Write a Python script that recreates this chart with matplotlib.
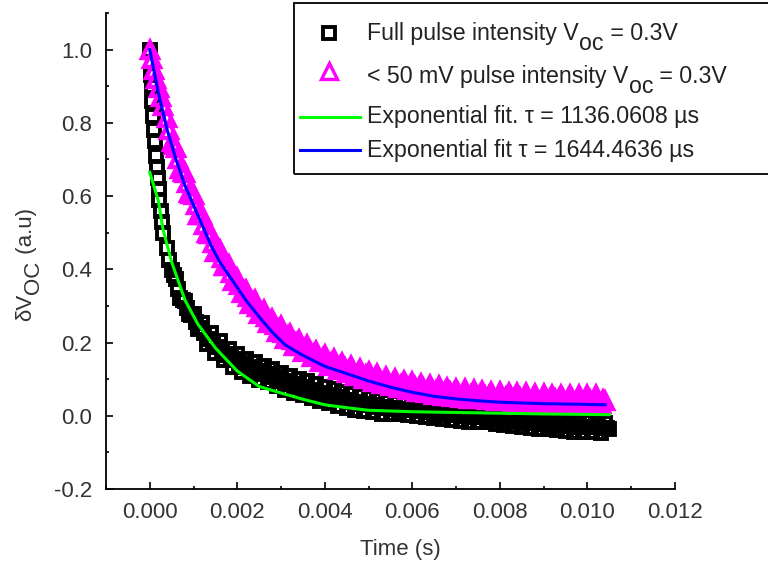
import numpy as np
import matplotlib.pyplot as plt
from matplotlib.lines import Line2D
from matplotlib.patches import Rectangle
from matplotlib.ticker import MultipleLocator, FormatStrFormatter

plt.rcParams['font.family'] = ['Liberation Sans', 'DejaVu Sans']
plt.rcParams['axes.unicode_minus'] = False

# full pulse intensity: fast drop right after the pulse (s, a.u.)
full_t_start = [0.0, 0.00002, 0.00004, 0.00006, 0.00008, 0.0001, 0.00012, 0.00014,
                0.00016, 0.00018, 0.0002, 0.00022, 0.00025, 0.00028, 0.0003]
full_v_start = [1.00, 0.93, 0.90, 0.86, 0.82, 0.78, 0.75, 0.71,
                0.68, 0.65, 0.62, 0.59, 0.56, 0.53, 0.50]
# full pulse intensity, every 0.1 ms from 0.4 ms to 10.5 ms
full_v = [0.458, 0.397, 0.373, 0.322, 0.313, 0.277, 0.279, 0.236, 0.253, 0.197,
          0.226, 0.172, 0.203, 0.151, 0.183, 0.134, 0.169, 0.120, 0.156, 0.109,
          0.146, 0.099, 0.137, 0.091, 0.129, 0.081, 0.117, 0.071, 0.109, 0.063,
          0.101, 0.056, 0.094, 0.048, 0.086, 0.041, 0.079, 0.034, 0.073, 0.027,
          0.065, 0.022, 0.060, 0.017, 0.054, 0.013, 0.049, 0.009, 0.044, 0.006,
          0.037, 0.006, 0.035, 0.004, 0.033, 0.002, 0.031, -0.001, 0.028, -0.004,
          0.025, -0.007, 0.022, -0.010, 0.019, -0.012, 0.017, -0.014, 0.015, -0.016,
          0.013, -0.017, 0.012, -0.018, 0.006, -0.022, 0.003, -0.024, 0.000, -0.027,
          -0.003, -0.030, -0.006, -0.033, -0.008, -0.035, -0.010, -0.037, -0.012, -0.039,
          -0.014, -0.041, -0.016, -0.043, -0.017, -0.044, -0.018, -0.045, -0.019, -0.046,
          -0.020, -0.037]
full_t = 0.0004 + 0.0001 * np.arange(len(full_v))
# full pulse intensity, the samples in between (0.45 ms to 10.45 ms)
full_v_mid = [0.425, 0.385, 0.347, 0.317, 0.295, 0.275, 0.257, 0.241, 0.225, 0.211,
              0.199, 0.187, 0.177, 0.167, 0.158, 0.151, 0.144, 0.138, 0.132, 0.127,
              0.122, 0.118, 0.114, 0.110, 0.105, 0.099, 0.094, 0.090, 0.086, 0.082,
              0.078, 0.075, 0.071, 0.067, 0.063, 0.060, 0.056, 0.053, 0.050, 0.046,
              0.043, 0.041, 0.038, 0.036, 0.033, 0.031, 0.029, 0.027, 0.025, 0.023,
              0.021, 0.020, 0.019, 0.018, 0.017, 0.016, 0.015, 0.013, 0.012, 0.010,
              0.009, 0.007, 0.006, 0.004, 0.003, 0.002, 0.001, 0.000, -0.001, -0.001,
              -0.002, -0.002, -0.004, -0.006, -0.008, -0.009, -0.011, -0.012, -0.013, -0.015,
              -0.016, -0.018, -0.019, -0.020, -0.021, -0.022, -0.023, -0.024, -0.025, -0.026,
              -0.027, -0.028, -0.029, -0.030, -0.030, -0.031, -0.031, -0.032, -0.032, -0.033,
              -0.034]
full_t_mid = 0.00045 + 0.0001 * np.arange(len(full_v_mid))

# < 50 mV pulse intensity
low_t_start = [0.0, 0.00005, 0.0001, 0.00015, 0.0002, 0.00025, 0.0003]
low_v_start = [1.0, 0.975, 0.945, 0.92, 0.895, 0.87, 0.845]
# every 0.1 ms from 0.4 ms to 10.4 ms
low_v = [0.812, 0.748, 0.732, 0.673, 0.662, 0.608, 0.602, 0.548, 0.547, 0.498,
         0.497, 0.448, 0.452, 0.408, 0.412, 0.368, 0.377, 0.336, 0.344, 0.306,
         0.315, 0.278, 0.289, 0.253, 0.265, 0.230, 0.244, 0.210, 0.224, 0.191,
         0.207, 0.175, 0.192, 0.161, 0.178, 0.148, 0.166, 0.136, 0.155, 0.126,
         0.145, 0.116, 0.136, 0.108, 0.128, 0.100, 0.120, 0.093, 0.113, 0.086,
         0.107, 0.080, 0.101, 0.075, 0.096, 0.070, 0.092, 0.066, 0.088, 0.062,
         0.084, 0.058, 0.080, 0.055, 0.077, 0.052, 0.074, 0.049, 0.072, 0.047,
         0.070, 0.045, 0.068, 0.043, 0.066, 0.041, 0.064, 0.040, 0.063, 0.038,
         0.062, 0.037, 0.061, 0.036, 0.060, 0.035, 0.059, 0.034, 0.058, 0.034,
         0.057, 0.033, 0.057, 0.033, 0.056, 0.032, 0.056, 0.032, 0.056, 0.032,
         0.040]
low_t = 0.0004 + 0.0001 * np.arange(len(low_v))
# in between samples, 0.45 ms to 10.35 ms
low_v_mid = [0.780, 0.740, 0.702, 0.667, 0.635, 0.605, 0.575, 0.547, 0.522, 0.497,
             0.472, 0.450, 0.430, 0.410, 0.390, 0.372, 0.356, 0.340, 0.325, 0.310,
             0.296, 0.283, 0.271, 0.259, 0.247, 0.237, 0.227, 0.217, 0.207, 0.199,
             0.191, 0.183, 0.176, 0.169, 0.163, 0.157, 0.151, 0.145, 0.140, 0.135,
             0.130, 0.126, 0.122, 0.118, 0.114, 0.110, 0.106, 0.103, 0.099, 0.096,
             0.093, 0.090, 0.088, 0.085, 0.083, 0.081, 0.079, 0.077, 0.075, 0.073,
             0.071, 0.069, 0.067, 0.066, 0.064, 0.063, 0.061, 0.060, 0.059, 0.058,
             0.057, 0.056, 0.055, 0.054, 0.053, 0.052, 0.052, 0.051, 0.050, 0.050,
             0.049, 0.049, 0.048, 0.048, 0.047, 0.047, 0.046, 0.046, 0.046, 0.045,
             0.045, 0.045, 0.045, 0.044, 0.044, 0.044, 0.044, 0.044, 0.044, 0.044]
low_t_mid = 0.00045 + 0.0001 * np.arange(len(low_v_mid))

# exponential fits
fit1_t = [0.0, 0.0002, 0.0003, 0.0005, 0.0008, 0.0011, 0.0015, 0.002, 0.0025,
          0.003, 0.0035, 0.004, 0.0045, 0.005, 0.006, 0.007, 0.008, 0.009, 0.0105]
fit1_v = [0.665, 0.585, 0.51, 0.42, 0.317, 0.25, 0.185, 0.122, 0.08,
          0.062, 0.045, 0.03, 0.022, 0.015, 0.011, 0.009, 0.007, 0.005, 0.003]
fit2_t = [0.0, 0.0002, 0.0004, 0.0006, 0.0008, 0.001, 0.0012, 0.0014, 0.0016,
          0.0018, 0.002, 0.0022, 0.0025, 0.0028, 0.0031, 0.0035, 0.004, 0.0045,
          0.005, 0.0055, 0.006, 0.0065, 0.007, 0.0075, 0.008, 0.009, 0.01, 0.0104]
fit2_v = [1.0, 0.88, 0.78, 0.70, 0.63, 0.575, 0.52, 0.465, 0.42,
          0.385, 0.35, 0.315, 0.27, 0.228, 0.193, 0.165, 0.135, 0.115,
          0.095, 0.078, 0.064, 0.053, 0.046, 0.041, 0.037, 0.033, 0.031, 0.030]

# legend texts: (before subscript, subscript, after subscript)
legend_rows = [('Full pulse intensity V', 'oc', ' = 0.3V'),
               ('< 50 mV pulse intensity V', 'oc', ' = 0.3V'),
               ('Exponential fit. τ = 1136.0608 µs', '', ''),
               ('Exponential fit τ = 1644.4636 µs', '', '')]
ylabel_parts = ('δV', 'OC', ' (a.u)')

W, H = 768, 565
fig = plt.figure(figsize=(W / 100, H / 100), dpi=100)
ax = fig.add_axes([106 / W, 76 / H, (675 - 106) / W, (489 - 13) / H])

sq = dict(ls='none', marker='s', ms=8.0, mfc='none', mec='black', mew=2.8)
tri = dict(ls='none', marker='^', ms=11.5, mfc='none', mec='#ff00ff', mew=3.1)
ax.plot(full_t_start, full_v_start, zorder=2, **sq)
ax.plot(full_t, full_v, zorder=2, **sq)
ax.plot(full_t_mid, full_v_mid, zorder=2, **sq)
ax.plot(low_t_start, low_v_start, zorder=3, **tri)
ax.plot(low_t, low_v, zorder=3, **tri)
ax.plot(low_t_mid, low_v_mid, zorder=3, **tri)
ax.plot(fit1_t, fit1_v, color='#00ff00', lw=2.2, zorder=4)
ax.plot(fit2_t, fit2_v, color='#0000ff', lw=2.2, zorder=5)

ax.set_xlim(-0.001, 0.012)
ax.set_ylim(-0.2, 1.1)
ax.xaxis.set_major_locator(MultipleLocator(0.002))
ax.xaxis.set_minor_locator(MultipleLocator(0.001))
ax.yaxis.set_major_locator(MultipleLocator(0.2))
ax.yaxis.set_minor_locator(MultipleLocator(0.1))
ax.xaxis.set_major_formatter(FormatStrFormatter('%.3f'))
ax.yaxis.set_major_formatter(FormatStrFormatter('%.1f'))
for s in ['top', 'right']:
    ax.spines[s].set_visible(False)
for s in ['left', 'bottom']:
    ax.spines[s].set_linewidth(1.3)
ax.tick_params(which='both', direction='in', width=1.2, labelsize=16,
               labelcolor='#333333')
ax.tick_params(which='major', length=5)
ax.tick_params(which='minor', length=2.5)
ax.tick_params(axis='x', pad=9)
ax.tick_params(axis='y', pad=10)

fig.text(400 / W, 1 - 549 / H, 'Time (s)', ha='center', va='center',
         fontsize=16, color='#333333')

# y label with an Origin-style subscript (full size, dropped)
rot = dict(rotation=90, rotation_mode='anchor', ha='left', va='baseline',
           fontsize=16, color='#333333')
y1 = fig.text(31 / W, 1 - 321 / H, ylabel_parts[0], **rot)
y2 = ax.annotate(ylabel_parts[1], xy=(1, 1), xycoords=y1, xytext=(2.0, 0),
                 textcoords='offset points', annotation_clip=False, **rot)
ax.annotate(ylabel_parts[2], xy=(1, 1), xycoords=y2, xytext=(-8.8, 0),
            textcoords='offset points', annotation_clip=False, **rot)

# legend drawn by hand; its box runs past the right edge of the figure
px = fig.transFigure
fig.patches.append(Rectangle((294 / W, 1 - 174 / H), 500 / W, 171 / H,
                             transform=px, fill=False, ec='black', lw=1.3, zorder=10))
fig.add_artist(Line2D([329 / W], [1 - 33 / H], transform=px, ls='none', marker='s',
                      ms=8.5, mfc='none', mec='black', mew=2.8))
fig.add_artist(Line2D([329 / W], [1 - 71 / H], transform=px, ls='none', marker='^',
                      ms=12, mfc='none', mec='#ff00ff', mew=2.4))
fig.add_artist(Line2D([300 / W, 360 / W], [1 - 117 / H] * 2, transform=px,
                      color='#00ff00', lw=2.2))
fig.add_artist(Line2D([300 / W, 360 / W], [1 - 150 / H] * 2, transform=px,
                      color='#0000ff', lw=2.2))
fs = 16.7
for (pre, sub, post), base in zip(legend_rows, [40, 83, 123, 157]):
    t1 = fig.text(367 / W, 1 - base / H, pre, ha='left', va='baseline',
                  fontsize=fs, color='#222222')
    if sub:
        # subscript at full size, dropped below the baseline (Origin style)
        t2 = ax.annotate(sub, xy=(1, 0), xycoords=t1, xytext=(0.5, -3.8),
                         textcoords='offset points', ha='left', va='baseline',
                         fontsize=fs, color='#222222', annotation_clip=False)
        ax.annotate(post, xy=(1, 0), xycoords=t2, xytext=(0, 10.7),
                    textcoords='offset points', ha='left', va='baseline',
                    fontsize=fs, color='#222222', annotation_clip=False)

fig.savefig('out.png', dpi=100)
